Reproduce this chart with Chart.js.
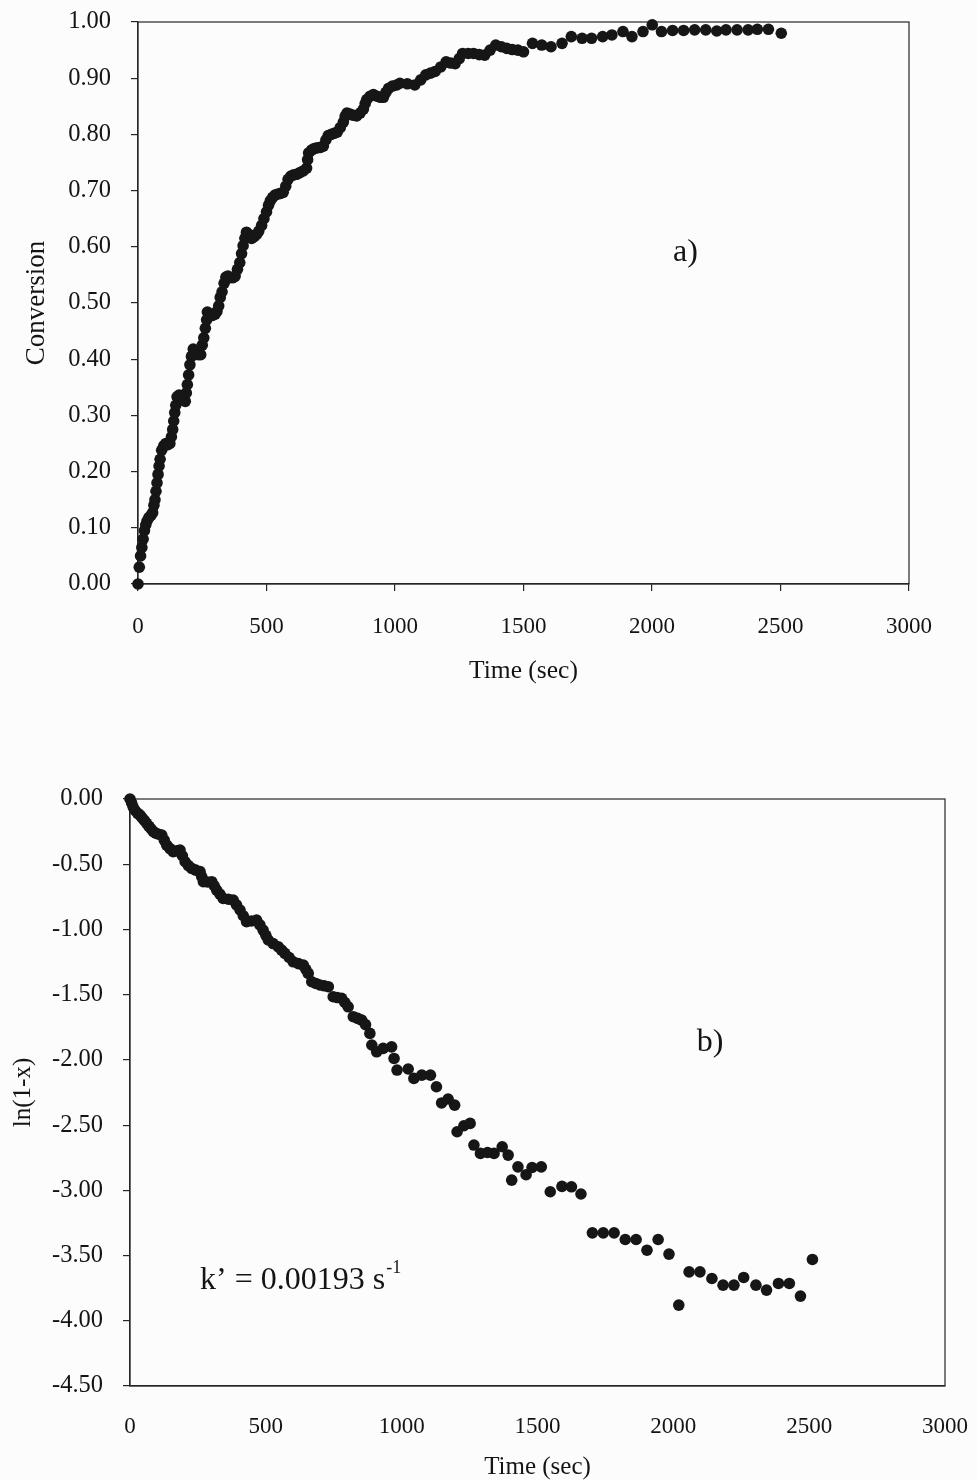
<!DOCTYPE html>
<html>
<head>
<meta charset="utf-8">
<script src="https://cdn.jsdelivr.net/npm/chart.js@4.4.0/dist/chart.umd.min.js"></script>
<style>
  html, body { margin: 0; padding: 0; background: #fcfcfc; overflow: hidden; }
  #wrapA { position: absolute; left: 0; top: 0; width: 977px; height: 700px; }
  #wrapB { position: absolute; left: 0; top: 760px; width: 977px; height: 720px; }
</style>
</head>
<body>
<div id="wrapA"><canvas id="chartA"></canvas></div>
<div id="wrapB"><canvas id="chartB"></canvas></div>
<script>
// panel a) conversion vs time
const timeA = [0, 5, 10, 15, 20, 25, 30, 35, 42, 50, 57, 62, 66, 70, 74, 78, 82, 86, 92, 100,
  108, 116, 124, 130, 135, 139, 143, 147, 152, 160, 168, 176, 184, 188, 192, 197, 202, 208, 215, 225,
  235, 244, 250, 256, 262, 267, 270, 278, 290, 300, 307, 314, 320, 327, 335, 342, 350, 360, 370, 378,
  387, 396, 403, 409, 416, 422, 432, 442, 452, 461, 470, 481, 490, 500, 508, 515, 524, 533, 545, 555,
  565, 575, 584, 595, 606, 617, 630, 643, 656, 660, 664, 675, 686, 697, 710, 721, 731, 740, 752, 763,
  775, 787, 799, 806, 813, 825, 838, 851, 864, 877, 884, 890, 903, 916, 930, 943, 955, 965, 975, 990,
  1007, 1019, 1048, 1077, 1100, 1120, 1138, 1156, 1178, 1199, 1217, 1234, 1250, 1263, 1285, 1306, 1328, 1349, 1370, 1392,
  1414, 1435, 1456, 1478, 1500, 1535, 1571, 1607, 1650, 1686, 1728, 1765, 1808, 1844, 1887, 1922, 1965, 2001, 2037, 2080,
  2123, 2166, 2209, 2252, 2288, 2331, 2374, 2410, 2453, 2503];
const conversionA = [0.000, 0.030, 0.050, 0.065, 0.080, 0.095, 0.105, 0.112, 0.118, 0.122, 0.127, 0.140, 0.150, 0.165, 0.180, 0.195, 0.210, 0.222, 0.238, 0.246,
  0.250, 0.248, 0.250, 0.262, 0.275, 0.290, 0.305, 0.318, 0.333, 0.336, 0.334, 0.330, 0.325, 0.340, 0.355, 0.372, 0.390, 0.405, 0.418, 0.415,
  0.408, 0.408, 0.425, 0.438, 0.455, 0.470, 0.484, 0.480, 0.478, 0.480, 0.485, 0.495, 0.510, 0.520, 0.535, 0.546, 0.548, 0.545, 0.545, 0.548,
  0.560, 0.572, 0.588, 0.602, 0.615, 0.626, 0.622, 0.615, 0.618, 0.622, 0.628, 0.638, 0.650, 0.662, 0.674, 0.682, 0.688, 0.692, 0.694, 0.695,
  0.697, 0.708, 0.720, 0.726, 0.728, 0.729, 0.732, 0.735, 0.740, 0.755, 0.767, 0.772, 0.775, 0.776, 0.777, 0.779, 0.790, 0.798, 0.800, 0.802,
  0.804, 0.812, 0.822, 0.832, 0.838, 0.836, 0.834, 0.833, 0.838, 0.845, 0.855, 0.862, 0.868, 0.871, 0.868, 0.866, 0.866, 0.875, 0.882, 0.886,
  0.888, 0.891, 0.890, 0.888, 0.897, 0.906, 0.909, 0.912, 0.920, 0.929, 0.927, 0.926, 0.935, 0.944, 0.944, 0.944, 0.942, 0.941, 0.950, 0.959,
  0.956, 0.953, 0.951, 0.950, 0.947, 0.962, 0.959, 0.956, 0.962, 0.974, 0.971, 0.971, 0.974, 0.977, 0.983, 0.974, 0.983, 0.995, 0.983, 0.985,
  0.985, 0.986, 0.986, 0.984, 0.986, 0.986, 0.986, 0.987, 0.987, 0.980];

// panel b) ln(1-x) vs time
const timeB = [0, 6, 12, 20, 28, 37, 45, 53, 61, 70, 78, 86, 95, 105, 117, 126, 135, 147, 159, 172,
  184, 193, 203, 215, 227, 242, 258, 264, 270, 285, 301, 310, 319, 331, 343, 362, 380, 392, 405, 417,
  429, 447, 466, 478, 490, 500, 509, 527, 546, 558, 570, 586, 601, 620, 638, 647, 656, 669, 684, 699,
  715, 730, 748, 763, 779, 791, 803, 822, 838, 853, 867, 883, 890, 908, 932, 963, 972, 983, 1024, 1045,
  1074, 1106, 1128, 1147, 1171, 1195, 1204, 1229, 1252, 1266, 1290, 1316, 1340, 1370, 1392, 1405, 1428, 1458, 1480, 1514,
  1547, 1590, 1625, 1660, 1702, 1742, 1782, 1823, 1863, 1903, 1944, 1984, 2020, 2058, 2098, 2142, 2183, 2223, 2259, 2304,
  2343, 2387, 2427, 2468, 2512];
const lnB = [0.000, -0.030, -0.064, -0.090, -0.110, -0.123, -0.145, -0.165, -0.186, -0.210, -0.230, -0.250, -0.262, -0.270, -0.276, -0.315, -0.353, -0.380, -0.404, -0.398,
  -0.391, -0.435, -0.481, -0.510, -0.532, -0.545, -0.557, -0.595, -0.634, -0.636, -0.634, -0.665, -0.698, -0.730, -0.762, -0.768, -0.775, -0.812, -0.851, -0.895,
  -0.941, -0.935, -0.928, -0.965, -1.005, -1.045, -1.081, -1.108, -1.133, -1.158, -1.183, -1.215, -1.248, -1.262, -1.273, -1.305, -1.337, -1.401, -1.414, -1.426,
  -1.432, -1.439, -1.516, -1.522, -1.528, -1.560, -1.593, -1.669, -1.682, -1.695, -1.730, -1.797, -1.886, -1.938, -1.912, -1.900, -1.989, -2.078, -2.070, -2.142,
  -2.117, -2.117, -2.206, -2.330, -2.300, -2.347, -2.551, -2.505, -2.487, -2.653, -2.717, -2.710, -2.717, -2.666, -2.730, -2.922, -2.820, -2.880, -2.825, -2.820,
  -3.011, -2.970, -2.973, -3.028, -3.326, -3.326, -3.326, -3.377, -3.377, -3.459, -3.377, -3.489, -3.880, -3.625, -3.625, -3.676, -3.727, -3.727, -3.668, -3.727,
  -3.765, -3.714, -3.714, -3.811, -3.530];

const xTicks = [0, 500, 1000, 1500, 2000, 2500, 3000];
const yTicksA = [0, 0.1, 0.2, 0.3, 0.4, 0.5, 0.6, 0.7, 0.8, 0.9, 1.0];
const yTicksB = [-4.5, -4, -3.5, -3, -2.5, -2, -1.5, -1, -0.5, 0];

const ink = '#141414';
const serif = "'Liberation Serif', 'Times New Roman', serif";

// box round the plot area (top and right sides)
const frameBox = {
  id: 'frameBox',
  beforeDatasetsDraw(chart) {
    const { ctx, chartArea: a } = chart;
    ctx.save();
    ctx.strokeStyle = '#262626';
    ctx.lineWidth = 1.2;
    ctx.strokeRect(a.left, a.top, a.right - a.left, a.bottom - a.top);
    ctx.restore();
  }
};

function panelLabel(text, tx, ty, size) {
  return {
    id: 'label_' + text.replace(/\W/g, ''),
    afterDraw(chart) {
      const { ctx, scales } = chart;
      ctx.save();
      ctx.fillStyle = ink;
      ctx.font = size + 'px ' + serif;
      ctx.textAlign = 'center';
      ctx.textBaseline = 'middle';
      ctx.fillText(text, scales.x.getPixelForValue(tx), scales.y.getPixelForValue(ty));
      ctx.restore();
    }
  };
}

const rateLabel = {
  id: 'rateLabel',
  afterDraw(chart) {
    const { ctx, scales } = chart;
    const x = scales.x.getPixelForValue(258);
    const y = scales.y.getPixelForValue(-3.69);
    ctx.save();
    ctx.fillStyle = ink;
    ctx.textAlign = 'left';
    ctx.textBaseline = 'middle';
    ctx.font = '32px ' + serif;
    const main = 'k\u2019 = 0.00193 s';
    ctx.fillText(main, x, y);
    const w = ctx.measureText(main).width;
    ctx.font = '18px ' + serif;
    ctx.fillText('-1', x + w + 1, y - 12);
    ctx.restore();
  }
};

function axisX(height, withTicks, labelPad, title) {
  return {
    type: 'linear', min: 0, max: 3000,
    afterBuildTicks: s => { s.ticks = xTicks.map(v => ({ value: v })); },
    afterFit: s => {
      s.height = height;
      s.paddingLeft = 0; s.paddingRight = 0;
    },
    grid: { display: true, drawOnChartArea: false, drawTicks: withTicks, tickLength: 7, color: '#262626', lineWidth: 1.2 },
    border: { display: true, color: '#262626', width: 1.2 },
    ticks: { color: ink, font: { family: serif, size: 23 }, padding: labelPad, maxRotation: 0, autoSkip: false,
      callback: v => String(v) },
    title: title
  };
}

function axisY(width, min, max, ticks, title) {
  return {
    type: 'linear', min: min, max: max,
    afterBuildTicks: s => { s.ticks = ticks.map(v => ({ value: v })); },
    afterFit: s => {
      s.width = width;
      s.paddingTop = 0; s.paddingBottom = 0;
    },
    grid: { display: true, drawOnChartArea: false, drawTicks: true, tickLength: 7, color: '#262626', lineWidth: 1.2 },
    border: { display: true, color: '#262626', width: 1.2 },
    ticks: { color: ink, font: { family: serif, size: 24.5 }, padding: 20, autoSkip: false,
      callback: v => Number(v).toFixed(2) },
    title: title
  };
}

const dotStyle = {
  showLine: false,
  pointRadius: 5.8,
  pointHoverRadius: 5.8,
  pointBackgroundColor: '#161616',
  pointBorderColor: '#161616',
  pointBorderWidth: 0,
  clip: false
};

new Chart(document.getElementById('chartA'), {
  type: 'scatter',
  data: {
    datasets: [Object.assign({
      label: 'Conversion',
      data: timeA.map((t, i) => ({ x: t, y: conversionA[i] }))
    }, dotStyle)]
  },
  options: {
    responsive: true,
    maintainAspectRatio: false,
    animation: false,
    layout: { padding: { left: 0, top: 22, right: 68, bottom: 0 } },
    plugins: { legend: { display: false }, tooltip: { enabled: false } },
    scales: {
      x: axisX(116, true, 22, { display: true, text: 'Time (sec)', color: ink,
        font: { family: serif, size: 25.5 }, padding: { top: 0, bottom: 13 } }),
      y: axisY(138, 0, 1, yTicksA, { display: true, text: 'Conversion', color: ink,
        font: { family: serif, size: 27 }, padding: { top: 21, bottom: 0 } })
    }
  },
  plugins: [frameBox, panelLabel('a)', 2130, 0.59, 32)]
});

new Chart(document.getElementById('chartB'), {
  type: 'scatter',
  data: {
    datasets: [Object.assign({
      label: 'ln(1-x)',
      data: timeB.map((t, i) => ({ x: t, y: lnB[i] }))
    }, dotStyle)]
  },
  options: {
    responsive: true,
    maintainAspectRatio: false,
    animation: false,
    layout: { padding: { left: 0, top: 39, right: 32, bottom: 0 } },
    plugins: { legend: { display: false }, tooltip: { enabled: false } },
    scales: {
      x: axisX(94, false, 27, { display: true, text: 'Time (sec)', color: ink,
        font: { family: serif, size: 25, lineHeight: 1 }, padding: { top: 0, bottom: 0 } }),
      y: axisY(130, -4.5, 0, yTicksB, { display: true, text: 'ln(1-x)', color: ink,
        font: { family: serif, size: 25 }, padding: { top: 8, bottom: 0 } })
    }
  },
  plugins: [frameBox, panelLabel('b)', 2135, -1.87, 32), rateLabel]
});
</script>
</body>
</html>
